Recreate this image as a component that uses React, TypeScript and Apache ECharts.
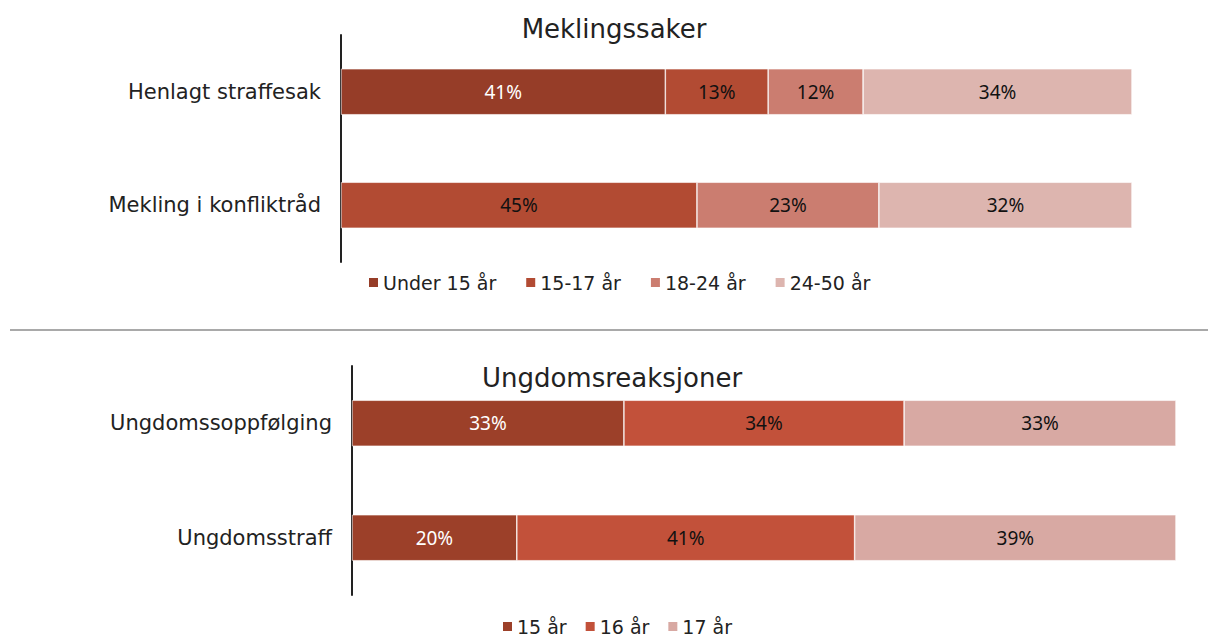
import React, { useEffect, useRef } from "react";
import * as echarts from "echarts";

const topCategories = ["Henlagt straffesak", "Mekling i konfliktråd"];
const topSeriesNames = ["Under 15 år", "15-17 år", "18-24 år", "24-50 år"];
const topUnder15 = [41, null];
const top15to17 = [13, 45];
const top18to24 = [12, 23];
const top24to50 = [34, 32];
const topColors = ["#963D28", "#B24B33", "#CB7D70", "#DDB5AF"];

const bottomCategories = ["Ungdomssoppfølging", "Ungdomsstraff"];
const bottomSeriesNames = ["15 år", "16 år", "17 år"];
const bottom15 = [33, 20];
const bottom16 = [34, 41];
const bottom17 = [33, 39];
const bottomColors = ["#9C4029", "#C2513A", "#D8A9A3"];

const FONT = "'DejaVu Sans', sans-serif";
const LABEL_FONT = "'Liberation Sans Narrow', 'Noto Sans', sans-serif";

export default function App() {
  const ref = useRef<HTMLDivElement>(null);
  useEffect(() => {
    if (!ref.current) return;
    const chart = echarts.init(ref.current, undefined, { renderer: "svg" });
    const topData = [topUnder15, top15to17, top18to24, top24to50];
    const bottomData = [bottom15, bottom16, bottom17];
    const mk = (name: string, data: any[], color: string, idx: number, first: boolean) => ({
      type: "bar",
      name,
      stack: "s" + idx,
      xAxisIndex: idx,
      yAxisIndex: idx,
      data,
      barWidth: 46,
      itemStyle: { color, borderColor: "#fff", borderWidth: 0.6 },
      label: {
        show: true,
        position: "inside",
        formatter: "{c}%",
        color: first ? "#ffffff" : "#111111",
        fontSize: 19,
        fontFamily: LABEL_FONT,
      },
    });
    const series: any[] = [];
    topData.forEach((d, i) => series.push(mk(topSeriesNames[i], d, topColors[i], 0, i === 0)));
    bottomData.forEach((d, i) => series.push(mk(bottomSeriesNames[i], d, bottomColors[i], 1, i === 0)));

    const yAxisCommon = {
      type: "category",
      inverse: true,
      axisTick: { show: false },
      axisLine: { show: true, lineStyle: { color: "#222", width: 2 } },
      axisLabel: { fontSize: 21, color: "#222", margin: 20, fontFamily: FONT },
    };
    const legendCommon = {
      icon: "rect",
      itemWidth: 11,
      itemHeight: 11,
      textStyle: { fontSize: 19, color: "#222", fontFamily: FONT, padding: [0, 0, 0, -1] },
    };

    chart.setOption({
      animation: false,
      grid: [
        { left: 341, width: 791, top: 35, height: 227 },
        { left: 352, width: 824, top: 366, height: 229 },
      ],
      xAxis: [
        { type: "value", gridIndex: 0, min: 0, max: 100, show: false },
        { type: "value", gridIndex: 1, min: 0, max: 100, show: false },
      ],
      yAxis: [
        { ...yAxisCommon, gridIndex: 0, data: topCategories },
        { ...yAxisCommon, gridIndex: 1, data: bottomCategories },
      ],
      legend: [
        { ...legendCommon, itemGap: 28, data: topSeriesNames, left: 362, top: 268 },
        { ...legendCommon, itemGap: 17, data: bottomSeriesNames, left: 496, top: 612 },
      ],
      graphic: [
        {
          type: "text",
          x: 614,
          y: 29,
          style: { text: "Meklingssaker", fill: "#222", font: `26px ${FONT}`, textAlign: "center", textVerticalAlign: "middle" },
        },
        {
          type: "text",
          x: 612,
          y: 378,
          style: { text: "Ungdomsreaksjoner", fill: "#222", font: `26px ${FONT}`, textAlign: "center", textVerticalAlign: "middle" },
        },
        {
          type: "line",
          shape: { x1: 10, y1: 330, x2: 1208, y2: 330 },
          style: { stroke: "#555", lineWidth: 1.2 },
        },
      ],
      series,
    });
    return () => chart.dispose();
  }, []);
  return (
    <div
      ref={ref}
      style={{ position: "fixed", left: 0, top: 0, width: 1209, height: 636, background: "#fff" }}
    />
  );
}
